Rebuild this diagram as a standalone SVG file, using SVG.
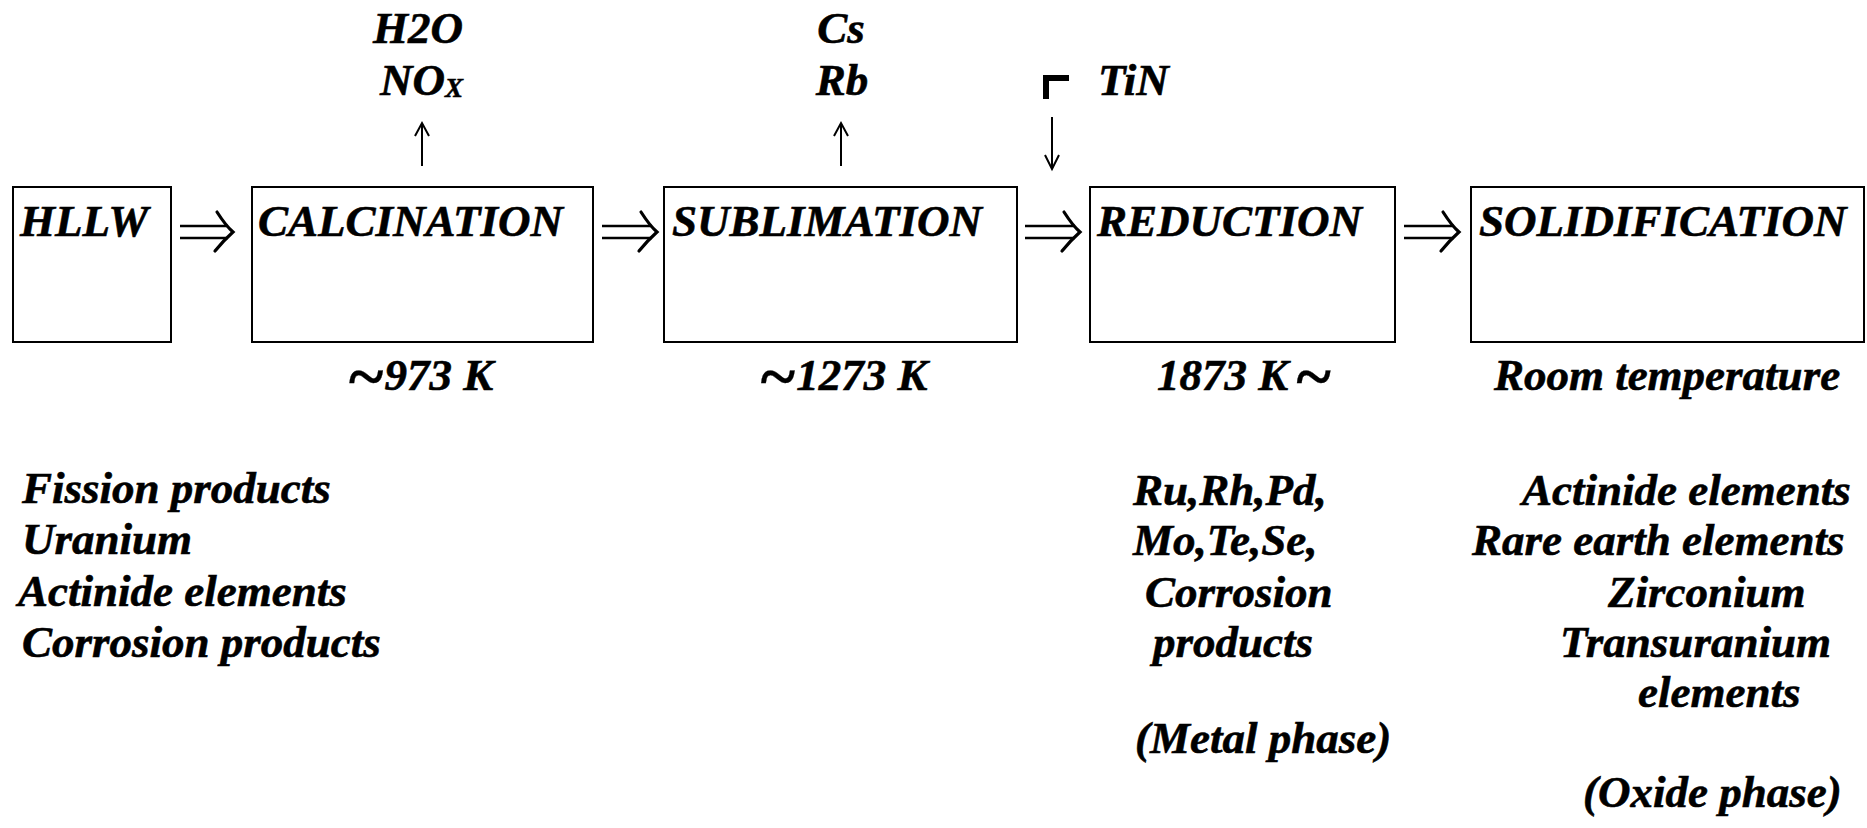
<svg xmlns="http://www.w3.org/2000/svg" width="1867" height="828" viewBox="0 0 1867 828">
<style>
.t{font-family:"Liberation Serif","Times New Roman",serif;font-weight:bold;font-style:italic;font-size:45px;fill:#000;stroke:#000;stroke-width:0.6}
.m{text-anchor:middle}
.tl{font-size:66px;stroke-width:0.3}
.box{fill:#fff;stroke:#000;stroke-width:2}
.ln{stroke:#000;stroke-width:2;fill:none}
.dbl{stroke:#000;stroke-width:2.5;fill:none}
.head{stroke:#000;stroke-width:3.2;fill:none;stroke-linecap:round}
</style>
<rect width="1867" height="828" fill="#fff"/>
<g id="connectors">
  <g id="dbl1"><path class="dbl" d="M180 226H228M180 238H228"/><path class="head" d="M217 212Q226 226 233 232Q223 241 215 251"/></g>
  <g id="dbl2"><path class="dbl" d="M602 226H652M602 238H652"/><path class="head" d="M641 212Q650 226 657 232Q647 241 639 251"/></g>
  <g id="dbl3"><path class="dbl" d="M1025 226H1075M1025 238H1075"/><path class="head" d="M1064 212Q1073 226 1080 232Q1070 241 1062 251"/></g>
  <g id="dbl4"><path class="dbl" d="M1404 226H1454M1404 238H1454"/><path class="head" d="M1443 212Q1452 226 1459 232Q1449 241 1441 251"/></g>
  <g id="up1"><path class="ln" d="M422 166V123M415 136L422 123L429 136"/></g>
  <g id="up2"><path class="ln" d="M841 166V123M834 136L841 123L848 136"/></g>
  <g id="down1"><path class="ln" d="M1052 117V169M1045 155L1052 169L1059 155"/></g>
  <path id="bracket" d="M1043 75H1069V81H1049V99H1043Z" fill="#000"/>
</g>
<g id="hllw">
  <rect class="box" x="13" y="187" width="158" height="155"/>
  <text class="t" x="20" y="236">HLLW</text>
</g>
<g id="calcination">
  <rect class="box" x="252" y="187" width="341" height="155"/>
  <text class="t" x="258" y="236">CALCINATION</text>
  <text class="t m" x="420" y="390"><tspan class="tl" dy="8">~</tspan><tspan dy="-8">973 K</tspan></text>
  <text class="t m" x="418" y="43">H2O</text>
  <text class="t" x="380" y="95">NO<tspan font-size="27" dy="2">X</tspan></text>
</g>
<g id="sublimation">
  <rect class="box" x="664" y="187" width="353" height="155"/>
  <text class="t" x="672" y="236">SUBLIMATION</text>
  <text class="t m" x="843" y="390"><tspan class="tl" dy="8">~</tspan><tspan dy="-8">1273 K</tspan></text>
  <text class="t m" x="841" y="43">Cs</text>
  <text class="t m" x="842" y="95">Rb</text>
</g>
<g id="tin">
  <text class="t" x="1098" y="95">TiN</text>
</g>
<g id="reduction">
  <rect class="box" x="1090" y="187" width="305" height="155"/>
  <text class="t" x="1157" y="390">1873 K<tspan class="tl" dx="6" dy="8">~</tspan></text>
  <text class="t" x="1097" y="236">REDUCTION</text>
</g>
<g id="solidification">
  <rect class="box" x="1471" y="187" width="393" height="155"/>
  <text class="t" x="1479" y="236">SOLIDIFICATION</text>
  <text class="t m" x="1667" y="390">Room temperature</text>
</g>
<g id="hllw-contents">
  <text class="t" x="22" y="503">Fission products</text>
  <text class="t" x="22" y="554">Uranium</text>
  <text class="t" x="18" y="606">Actinide elements</text>
  <text class="t" x="22" y="657">Corrosion products</text>
</g>
<g id="metal-phase">
  <text class="t" x="1133" y="505">Ru,Rh,Pd,</text>
  <text class="t" x="1133" y="555">Mo,Te,Se,</text>
  <text class="t" x="1145" y="607">Corrosion</text>
  <text class="t" x="1153" y="657">products</text>
  <text class="t" x="1135" y="753">(Metal phase)</text>
</g>
<g id="oxide-phase">
  <text class="t" x="1522" y="505">Actinide elements</text>
  <text class="t" x="1472" y="555">Rare earth elements</text>
  <text class="t" x="1608" y="607">Zirconium</text>
  <text class="t" x="1560" y="657">Transuranium</text>
  <text class="t" x="1638" y="707">elements</text>
  <text class="t" x="1583" y="807">(Oxide phase)</text>
</g>
</svg>
